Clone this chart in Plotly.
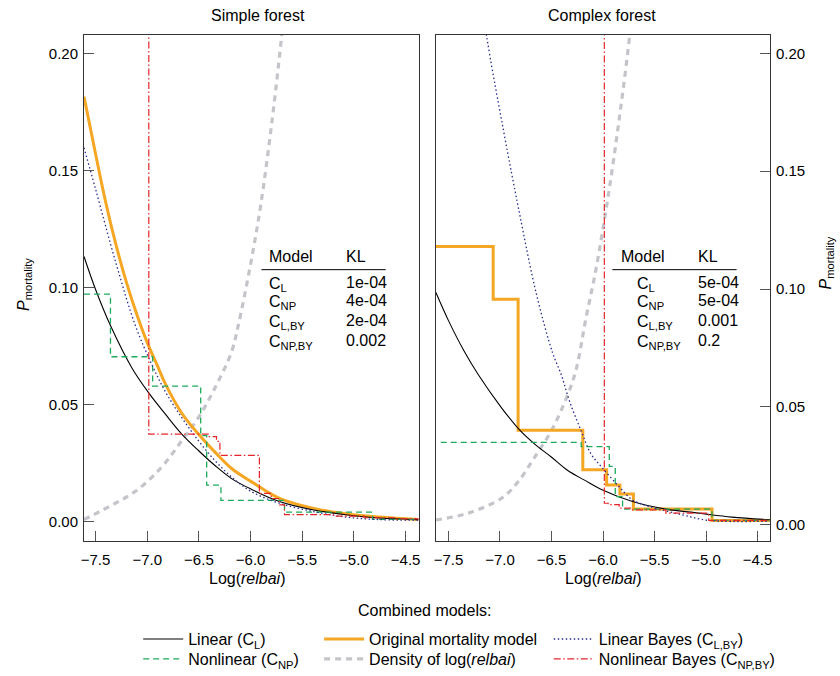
import plotly.graph_objects as go

# ---------------- data ----------------
# Simple forest (left panel)
s_orig_x = [-7.612, -7.5, -7.4, -7.3, -7.2, -7.1, -7.0, -6.9, -6.826, -6.666, -6.505, -6.345, -6.184, -5.99, -5.72, -5.40, -5.08, -4.75, -4.375]
s_orig_y = [0.1815, 0.157, 0.136, 0.1178, 0.1020, 0.0884, 0.0765, 0.0665, 0.0590, 0.0464, 0.0375, 0.0298, 0.0228, 0.0171, 0.0101, 0.0059, 0.0035, 0.0021, 0.0010]

s_lin_x = [-7.612, -7.5, -7.356, -7.147, -6.986, -6.823, -6.666, -6.505, -6.345, -6.184, -5.99, -5.72, -5.40, -5.08, -4.75, -4.375]
s_lin_y = [0.1133, 0.0992, 0.0838, 0.0656, 0.0551, 0.0459, 0.0375, 0.0305, 0.0241, 0.0185, 0.0139, 0.0087, 0.0052, 0.0031, 0.0017, 0.0010]

s_linby_x = [-7.612, -7.5, -7.3, -7.115, -6.954, -6.826, -6.666, -6.505, -6.345, -6.184, -5.99, -5.72, -5.40, -5.08, -4.75, -4.375]
s_linby_y = [0.1597, 0.142, 0.110, 0.0838, 0.0670, 0.0557, 0.0445, 0.0347, 0.0262, 0.0192, 0.0129, 0.0080, 0.0045, 0.0021, 0.0010, 0.0008]

s_np_x = [-7.612, -7.356, -6.948, -6.483, -6.425, -6.287, -5.672, -4.82, -4.375]
s_np_y = [0.0972, 0.0705, 0.0580, 0.0368, 0.0157, 0.0092, 0.0042, 0.0011, 0.0011]

s_npby_x = [-7.612, -6.985, -6.409, -6.33, -6.297, -5.915, -5.80, -5.72, -5.672, -5.2, -4.9, -4.6, -4.375]
s_npby_y = [0.5, 0.0375, 0.0364, 0.0344, 0.0284, 0.0122, 0.0100, 0.0073, 0.0031, 0.0025, 0.0018, 0.0013, 0.0010]

s_dens_x = [-7.612, -7.307, -7.15, -6.986, -6.83, -6.666, -6.505, -6.345, -6.184, -6.12, -6.0, -5.90, -5.79, -5.70, -5.62]
s_dens_y = [0.0010, 0.0080, 0.0120, 0.0178, 0.0250, 0.0347, 0.0445, 0.0572, 0.0726, 0.0838, 0.1100, 0.1358, 0.1720, 0.2070, 0.2400]

# Complex forest (right panel)
c_orig_x = [-7.622, -7.066, -6.824, -6.196, -5.965, -5.836, -5.705, -4.942, -4.38]
c_orig_y = [0.1180, 0.0957, 0.0401, 0.0233, 0.0168, 0.0130, 0.0066, 0.0018, 0.0018]

c_lin_x = [-7.622, -7.5, -7.35, -7.21, -6.985, -6.808, -6.663, -6.502, -6.342, -6.18, -6.004, -5.714, -5.39, -5.07, -4.749, -4.38]
c_lin_y = [0.0985, 0.0866, 0.0738, 0.0636, 0.0496, 0.0401, 0.0342, 0.0287, 0.0230, 0.0189, 0.0147, 0.0098, 0.0066, 0.0049, 0.0032, 0.0021]

c_linby_x = [-7.2, -7.13, -6.969, -6.81, -6.65, -6.49, -6.405, -6.325, -6.212, -6.116, -6.004, -5.843, -5.714, -5.55, -5.23, -4.974, -4.38]
c_linby_y = [0.2300, 0.2074, 0.1680, 0.1320, 0.0985, 0.0730, 0.0636, 0.0524, 0.0398, 0.0300, 0.0240, 0.0161, 0.0105, 0.0077, 0.0042, 0.0018, 0.0015]

c_np_x = [-7.575, -6.212, -5.939, -5.881, -5.81, -4.942, -4.38]
c_np_y = [0.0349, 0.0331, 0.0247, 0.0119, 0.0066, 0.0018, 0.0018]

c_npby_x = [-7.622, -5.987, -5.95, -5.843, -5.714, -5.39, -4.974, -4.38]
c_npby_y = [0.5, 0.0091, 0.0085, 0.0070, 0.0063, 0.0049, 0.0018, 0.0018]

c_dens_x = [-7.622, -7.307, -6.985, -6.824, -6.663, -6.502, -6.342, -6.26, -6.164, -6.07, -5.955, -5.84, -5.74, -5.68]
c_dens_y = [0.0020, 0.0049, 0.0112, 0.0182, 0.0287, 0.0398, 0.0552, 0.0660, 0.0880, 0.1080, 0.1380, 0.1730, 0.2080, 0.2350]

x_ticks = [-7.5, -7.0, -6.5, -6.0, -5.5, -5.0, -4.5]
y_ticks = [0.0, 0.05, 0.10, 0.15, 0.20]

panel_titles = ["Simple forest", "Complex forest"]
table_models = ["C<sub>L</sub>", "C<sub>NP</sub>", "C<sub>L,BY</sub>", "C<sub>NP,BY</sub>"]
kl_simple = ["1e-04", "4e-04", "2e-04", "0.002"]
kl_complex = ["5e-04", "5e-04", "0.001", "0.2"]

# ---------------- styles ----------------
W, H = 840, 676
FONT = "Liberation Sans"
C_ORANGE = "#F5A623"
C_GREEN = "#1DAA5A"
C_BLUE = "#2B2E8F"
C_RED = "#E8252B"
C_GRAY = "#C4C5CA"

def PX(x):
    return x / W

def PY(y):
    return 1 - y / H

styles = {
    "dens": dict(color=C_GRAY, width=3.2, dash="6px,5px"),
    "orig": dict(color=C_ORANGE, width=3),
    "lin": dict(color="black", width=1.1),
    "np": dict(color=C_GREEN, width=1.3, dash="6px,4px"),
    "linby": dict(color=C_BLUE, width=1.3, dash="1.5px,2.5px"),
    "npby": dict(color=C_RED, width=1.2, dash="7px,2.5px,1.5px,2.5px"),
}
names = {
    "lin": "Linear (C<sub>L</sub>)",
    "np": "Nonlinear (C<sub>NP</sub>)",
    "orig": "Original mortality model",
    "dens": "Density of log(<i>relbai</i>)",
    "linby": "Linear Bayes (C<sub>L,BY</sub>)",
    "npby": "Nonlinear Bayes (C<sub>NP,BY</sub>)",
}
legend_of = {"lin": "legend", "np": "legend2", "orig": "legend3",
             "dens": "legend4", "linby": "legend5", "npby": "legend6"}

fig = go.Figure()

panels = [
    dict(xa="x", ya="y", show=True,
         data={"dens": (s_dens_x, s_dens_y, "spline"),
               "orig": (s_orig_x, s_orig_y, "spline"),
               "lin": (s_lin_x, s_lin_y, "spline"),
               "np": (s_np_x, s_np_y, "hv"),
               "linby": (s_linby_x, s_linby_y, "spline"),
               "npby": (s_npby_x, s_npby_y, "hv")}),
    dict(xa="x2", ya="y2", show=False,
         data={"dens": (c_dens_x, c_dens_y, "spline"),
               "orig": (c_orig_x, c_orig_y, "hv"),
               "lin": (c_lin_x, c_lin_y, "spline"),
               "np": (c_np_x, c_np_y, "hv"),
               "linby": (c_linby_x, c_linby_y, "spline"),
               "npby": (c_npby_x, c_npby_y, "hv")}),
]
order = ["dens", "orig", "lin", "np", "linby", "npby"]
for p in panels:
    for key in order:
        xs, ys, shape = p["data"][key]
        fig.add_trace(go.Scatter(
            x=xs, y=ys, mode="lines", name=names[key],
            line=dict(shape=shape, **styles[key]),
            xaxis=p["xa"], yaxis=p["ya"], showlegend=p["show"],
            legend=legend_of[key], hoverinfo="skip"))

axis_common = dict(showline=True, mirror=True, linecolor="#333333", linewidth=1,
                   ticks="inside", ticklen=10, tickcolor="#555555", tickwidth=1,
                   showgrid=False, zeroline=False,
                   tickfont=dict(family=FONT, size=15, color="black"))

fig.update_layout(
    width=W, height=H,
    margin=dict(l=0, r=0, t=0, b=0),
    paper_bgcolor="white", plot_bgcolor="white",
    font=dict(family=FONT, size=15, color="black"),
    xaxis=dict(domain=[PX(81.5), PX(418)], range=[-7.612, -4.375], anchor="y",
               tickvals=x_ticks, tickformat=".1f", ticklabelstandoff=5, **axis_common),
    yaxis=dict(domain=[PY(548), PY(35)], range=[-0.008, 0.208], anchor="x",
               tickvals=y_ticks, tickformat=".2f", ticklabelstandoff=2, **axis_common),
    xaxis2=dict(domain=[PX(435.5), PX(771.5)], range=[-7.622, -4.38], anchor="y2",
                tickvals=x_ticks, tickformat=".1f", ticklabelstandoff=5, **axis_common),
    yaxis2=dict(domain=[PY(548), PY(35)], range=[-0.0068, 0.208], anchor="x2", side="right",
                tickvals=y_ticks, tickformat=".2f", ticklabelstandoff=2, **axis_common),
)

# legends: 3 columns x 2 rows (top edge of each legend box)
leg_pos = {"legend": (136, 630.5), "legend2": (136, 651),
           "legend3": (318, 630.5), "legend4": (318, 651),
           "legend5": (549, 630.5), "legend6": (549, 651)}
for lg, (lx, ly) in leg_pos.items():
    fig.update_layout({lg: dict(x=PX(lx), y=PY(ly), xanchor="left", yanchor="top",
                                bgcolor="rgba(0,0,0,0)", borderwidth=0, itemwidth=40,
                                font=dict(family=FONT, size=16, color="black"))})

ann = []
def text(x, y, t, size=16, xanchor="center", yanchor="middle", angle=0):
    ann.append(dict(x=PX(x), y=PY(y), xref="paper", yref="paper", text=t, showarrow=False,
                    xanchor=xanchor, yanchor=yanchor, textangle=angle,
                    font=dict(family=FONT, size=size, color="black")))

text(257, 16, panel_titles[0])
text(603, 16, panel_titles[1])
text(246, 586, "Log(<i>relbai</i>)")
text(604, 586, "Log(<i>relbai</i>)")
text(21, 288, "<i>P</i><sub>mortality</sub>", angle=-90)
text(828, 267, "<i>P</i><sub>mortality</sub>", angle=-90)
text(424, 618.5, "Combined models:")

# tables
rows_y = [287, 306, 326, 346]
text(266, 260, "Model", xanchor="left")
text(343, 260, "KL", xanchor="left")
for i, m in enumerate(table_models):
    text(266, rows_y[i] + 1, m, xanchor="left")
    text(343, rows_y[i] - 1, kl_simple[i], xanchor="left")
text(620, 260, "Model", xanchor="left")
text(697, 260, "KL", xanchor="left")
for i, m in enumerate(table_models):
    text(636, rows_y[i] + 1, m, xanchor="left")
    text(697, rows_y[i] - 1, kl_complex[i], xanchor="left")

fig.update_layout(annotations=ann)
fig.add_shape(type="line", xref="paper", yref="paper", x0=PX(260), x1=PX(385),
              y0=PY(273.3), y1=PY(273.3), line=dict(color="black", width=1))
fig.add_shape(type="line", xref="paper", yref="paper", x0=PX(613), x1=PX(738),
              y0=PY(273.3), y1=PY(273.3), line=dict(color="black", width=1))

fig.write_html("out.html")
